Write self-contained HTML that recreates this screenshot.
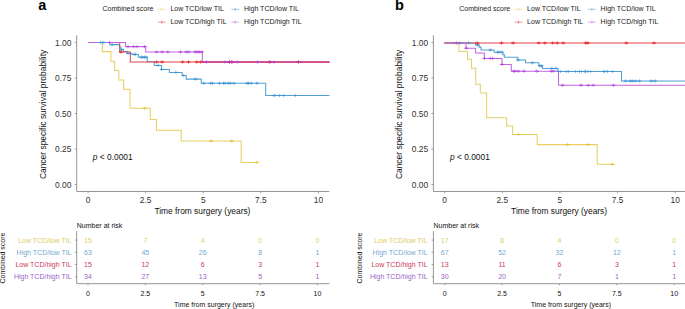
<!DOCTYPE html>
<html><head><meta charset="utf-8"><title>Kaplan-Meier</title>
<style>
html,body{margin:0;padding:0;background:#fff;width:685px;height:309px;overflow:hidden}
svg{display:block}
text{font-family:"Liberation Sans",sans-serif}
</style></head>
<body>
<svg width="685" height="309" viewBox="0 0 685 309">
<rect width="685" height="309" fill="#fff"/>
<text x="38.2" y="10" font-size="14.5" font-weight="bold"  fill="#000">a</text>
<text x="102.5" y="11.4" font-size="7"  fill="#222">Combined score</text>
<path d="M157.8,9.3H165.6M161.7,7.700000000000001V10.9" stroke="#e8d066" stroke-width="0.8" opacity="0.7" fill="none"/>
<text x="170.4" y="11.2" font-size="7"  fill="#222">Low TCD/low TIL</text>
<path d="M231.3,9.3H239.1M235.2,7.700000000000001V10.9" stroke="#52a0d2" stroke-width="0.8" opacity="0.7" fill="none"/>
<text x="243.9" y="11.2" font-size="7"  fill="#222">High TCD/low TIL</text>
<path d="M157.8,22.1H165.6M161.7,20.5V23.700000000000003" stroke="#dd4652" stroke-width="0.8" opacity="0.7" fill="none"/>
<text x="170.4" y="24.0" font-size="7"  fill="#222">Low TCD/high TIL</text>
<path d="M231.3,22.1H239.1M235.2,20.5V23.700000000000003" stroke="#c266e0" stroke-width="0.8" opacity="0.7" fill="none"/>
<text x="243.9" y="24.0" font-size="7"  fill="#222">High TCD/high TIL</text>
<path d="M76.7,35.3V191.5H329.3" stroke="#8a8a8a" stroke-width="0.9" fill="none"/>
<path d="M74.7,42.60H76.7" stroke="#8a8a8a" stroke-width="0.8"/>
<text x="71.4" y="45.60" font-size="8.4" text-anchor="end"  fill="#333">1.00</text>
<path d="M74.7,78.07H76.7" stroke="#8a8a8a" stroke-width="0.8"/>
<text x="71.4" y="81.07" font-size="8.4" text-anchor="end"  fill="#333">0.75</text>
<path d="M74.7,113.55H76.7" stroke="#8a8a8a" stroke-width="0.8"/>
<text x="71.4" y="116.55" font-size="8.4" text-anchor="end"  fill="#333">0.50</text>
<path d="M74.7,149.03H76.7" stroke="#8a8a8a" stroke-width="0.8"/>
<text x="71.4" y="152.03" font-size="8.4" text-anchor="end"  fill="#333">0.25</text>
<path d="M74.7,184.50H76.7" stroke="#8a8a8a" stroke-width="0.8"/>
<text x="71.4" y="187.50" font-size="8.4" text-anchor="end"  fill="#333">0.00</text>
<path d="M88.00,191.5V193.3" stroke="#8a8a8a" stroke-width="0.8"/>
<text x="88.00" y="203.1" font-size="8.4" text-anchor="middle"  fill="#333">0</text>
<path d="M145.62,191.5V193.3" stroke="#8a8a8a" stroke-width="0.8"/>
<text x="145.62" y="203.1" font-size="8.4" text-anchor="middle"  fill="#333">2.5</text>
<path d="M203.25,191.5V193.3" stroke="#8a8a8a" stroke-width="0.8"/>
<text x="203.25" y="203.1" font-size="8.4" text-anchor="middle"  fill="#333">5</text>
<path d="M260.88,191.5V193.3" stroke="#8a8a8a" stroke-width="0.8"/>
<text x="260.88" y="203.1" font-size="8.4" text-anchor="middle"  fill="#333">7.5</text>
<path d="M318.50,191.5V193.3" stroke="#8a8a8a" stroke-width="0.8"/>
<text x="318.50" y="203.1" font-size="8.4" text-anchor="middle"  fill="#333">10</text>
<text x="202.4" y="214.4" font-size="8.4" text-anchor="middle"  fill="#111">Time from surgery (years)</text>
<text transform="translate(45.5,114.4) rotate(-90)" font-size="8.45" text-anchor="middle"  fill="#111">Cancer specific survival probability</text>
<text x="92.8" y="160.2" font-size="8.4"  fill="#111"><tspan font-style="italic">p</tspan> &lt; 0.0001</text>
<path d="M88,42.5H102.3V51.6H110.9V61.2H114.7V70.5H118.8V79.9H123.6V89.2H130V108.3H150.3V119.5H156.5V130.3H181.2V141H241.2V162.4H257.5" stroke="#e8d066" stroke-width="1.05" fill="none" stroke-linejoin="miter"/>
<path d="M88,42.5H110V44.6H119.5V47H120.8V49.3H123.5V51.5H127.4V53.3H131.8V54.4H138.4V57.2H147.2V61.8H154.3V65.4H161.5V69.5H169.4V72.4H182.1V75.5H186.2V79.1H201.2V83.3H265.7V95.5H329.5" stroke="#52a0d2" stroke-width="1.05" fill="none" stroke-linejoin="miter"/>
<path d="M88,42.5H119.7V52H130.3V62H329.5" stroke="#dd4652" stroke-width="1.05" fill="none" stroke-linejoin="miter"/>
<path d="M88,42.5H125.6V46.6H145.7V51.9H202.3V62H329.5" stroke="#c266e0" stroke-width="1.05" fill="none" stroke-linejoin="miter"/>
<path d="M202.3,62H329.5" stroke="#d3356f" stroke-width="1.25" fill="none" stroke-linejoin="miter"/>
<path d="M142.60,108.30H146.60" stroke="#e3bf2c" stroke-width="1.0" fill="none"/><path d="M144.60,106.60V110.00" stroke="#e3bf2c" stroke-width="0.8" opacity="0.75" fill="none"/>
<path d="M209.20,141.00H213.20M229.70,141.00H233.70" stroke="#e3bf2c" stroke-width="1.0" fill="none"/><path d="M211.20,139.30V142.70M231.70,139.30V142.70" stroke="#e3bf2c" stroke-width="0.8" opacity="0.75" fill="none"/>
<path d="M254.80,162.40H258.80" stroke="#e3bf2c" stroke-width="1.0" fill="none"/><path d="M256.80,160.70V164.10" stroke="#e3bf2c" stroke-width="0.8" opacity="0.75" fill="none"/>
<path d="M98.50,42.50H102.50M100.30,42.50H104.30M101.80,42.50H105.80" stroke="#3d95d6" stroke-width="1.0" fill="none"/><path d="M100.50,40.80V44.20M102.30,40.80V44.20M103.80,40.80V44.20" stroke="#3d95d6" stroke-width="0.8" opacity="0.75" fill="none"/>
<path d="M110.20,44.60H114.20" stroke="#3d95d6" stroke-width="1.0" fill="none"/><path d="M112.20,42.90V46.30" stroke="#3d95d6" stroke-width="0.8" opacity="0.75" fill="none"/>
<path d="M119.50,49.80H123.50" stroke="#3d95d6" stroke-width="1.0" fill="none"/><path d="M121.50,48.10V51.50" stroke="#3d95d6" stroke-width="0.8" opacity="0.75" fill="none"/>
<path d="M126.10,53.30H130.10" stroke="#3d95d6" stroke-width="1.0" fill="none"/><path d="M128.10,51.60V55.00" stroke="#3d95d6" stroke-width="0.8" opacity="0.75" fill="none"/>
<path d="M132.00,54.40H136.00M133.40,54.40H137.40" stroke="#3d95d6" stroke-width="1.0" fill="none"/><path d="M134.00,52.70V56.10M135.40,52.70V56.10" stroke="#3d95d6" stroke-width="0.8" opacity="0.75" fill="none"/>
<path d="M139.30,57.20H143.30M140.70,57.20H144.70M142.60,57.20H146.60M144.00,57.20H148.00" stroke="#3d95d6" stroke-width="1.0" fill="none"/><path d="M141.30,55.50V58.90M142.70,55.50V58.90M144.60,55.50V58.90M146.00,55.50V58.90" stroke="#3d95d6" stroke-width="0.8" opacity="0.75" fill="none"/>
<path d="M156.20,65.40H160.20" stroke="#3d95d6" stroke-width="1.0" fill="none"/><path d="M158.20,63.70V67.10" stroke="#3d95d6" stroke-width="0.8" opacity="0.75" fill="none"/>
<path d="M159.80,69.50H163.80" stroke="#3d95d6" stroke-width="1.0" fill="none"/><path d="M161.80,67.80V71.20" stroke="#3d95d6" stroke-width="0.8" opacity="0.75" fill="none"/>
<path d="M173.80,72.40H177.80" stroke="#3d95d6" stroke-width="1.0" fill="none"/><path d="M175.80,70.70V74.10" stroke="#3d95d6" stroke-width="0.8" opacity="0.75" fill="none"/>
<path d="M181.60,75.50H185.60" stroke="#3d95d6" stroke-width="1.0" fill="none"/><path d="M183.60,73.80V77.20" stroke="#3d95d6" stroke-width="0.8" opacity="0.75" fill="none"/>
<path d="M193.50,79.10H197.50" stroke="#3d95d6" stroke-width="1.0" fill="none"/><path d="M195.50,77.40V80.80" stroke="#3d95d6" stroke-width="0.8" opacity="0.75" fill="none"/>
<path d="M201.80,83.30H205.80M208.60,83.30H212.60M210.60,83.30H214.60M217.40,83.30H221.40M221.50,83.30H225.50M223.10,83.30H227.10M226.20,83.30H230.20M228.20,83.30H232.20M231.90,83.30H235.90M245.10,83.30H249.10M246.60,83.30H250.60M249.20,83.30H253.20M254.90,83.30H258.90" stroke="#3d95d6" stroke-width="1.0" fill="none"/><path d="M203.80,81.60V85.00M210.60,81.60V85.00M212.60,81.60V85.00M219.40,81.60V85.00M223.50,81.60V85.00M225.10,81.60V85.00M228.20,81.60V85.00M230.20,81.60V85.00M233.90,81.60V85.00M247.10,81.60V85.00M248.60,81.60V85.00M251.20,81.60V85.00M256.90,81.60V85.00" stroke="#3d95d6" stroke-width="0.8" opacity="0.75" fill="none"/>
<path d="M271.50,95.50H275.50M273.00,95.50H277.00M277.50,95.50H281.50M281.60,95.50H285.60M293.20,95.50H297.20" stroke="#3d95d6" stroke-width="1.0" fill="none"/><path d="M273.50,93.80V97.20M275.00,93.80V97.20M279.50,93.80V97.20M283.60,93.80V97.20M295.20,93.80V97.20" stroke="#3d95d6" stroke-width="0.8" opacity="0.75" fill="none"/>
<path d="M118.80,52.00H122.80" stroke="#ee1515" stroke-width="1.0" fill="none"/><path d="M120.80,50.30V53.70" stroke="#ee1515" stroke-width="0.8" opacity="0.75" fill="none"/>
<path d="M154.70,62.00H158.70M160.20,62.00H164.20M180.60,62.00H184.60M186.50,62.00H190.50M194.60,62.00H198.60M198.70,62.00H202.70M227.50,62.00H231.50M229.60,62.00H233.60M267.90,62.00H271.90M296.50,62.00H300.50" stroke="#ee1515" stroke-width="1.0" fill="none"/><path d="M156.70,60.30V63.70M162.20,60.30V63.70M182.60,60.30V63.70M188.50,60.30V63.70M196.60,60.30V63.70M200.70,60.30V63.70M229.50,60.30V63.70M231.60,60.30V63.70M269.90,60.30V63.70M298.50,60.30V63.70" stroke="#ee1515" stroke-width="0.8" opacity="0.75" fill="none"/>
<path d="M107.50,42.50H111.50" stroke="#b445de" stroke-width="1.0" fill="none"/><path d="M109.50,40.80V44.20" stroke="#b445de" stroke-width="0.8" opacity="0.75" fill="none"/>
<path d="M126.10,46.60H130.10M131.60,46.60H135.60M134.90,46.60H138.90M142.50,46.60H146.50" stroke="#b445de" stroke-width="1.0" fill="none"/><path d="M128.10,44.90V48.30M133.60,44.90V48.30M136.90,44.90V48.30M144.50,44.90V48.30" stroke="#b445de" stroke-width="0.8" opacity="0.75" fill="none"/>
<path d="M154.70,51.90H158.70M160.20,51.90H164.20M165.80,51.90H169.80M178.50,51.90H182.50M184.20,51.90H188.20M186.80,51.90H190.80M193.00,51.90H197.00M195.10,51.90H199.10M197.20,51.90H201.20M199.80,51.90H203.80" stroke="#b445de" stroke-width="1.0" fill="none"/><path d="M156.70,50.20V53.60M162.20,50.20V53.60M167.80,50.20V53.60M180.50,50.20V53.60M186.20,50.20V53.60M188.80,50.20V53.60M195.00,50.20V53.60M197.10,50.20V53.60M199.20,50.20V53.60M201.80,50.20V53.60" stroke="#b445de" stroke-width="0.8" opacity="0.75" fill="none"/>
<path d="M204.40,62.00H208.40M222.80,62.00H226.80M227.50,62.00H231.50M230.10,62.00H234.10M235.30,62.00H239.30M255.50,62.00H259.50M267.40,62.00H271.40M272.10,62.00H276.10M296.50,62.00H300.50" stroke="#b445de" stroke-width="1.0" fill="none"/><path d="M206.40,60.30V63.70M224.80,60.30V63.70M229.50,60.30V63.70M232.10,60.30V63.70M237.30,60.30V63.70M257.50,60.30V63.70M269.40,60.30V63.70M274.10,60.30V63.70M298.50,60.30V63.70" stroke="#b445de" stroke-width="0.8" opacity="0.75" fill="none"/>
<text x="76.8" y="228.2" font-size="7"  fill="#111">Number at risk</text>
<path d="M76.7,231.2V283.7H329.3" stroke="#8a8a8a" stroke-width="0.9" fill="none"/>
<path d="M74.9,240.1H76.7" stroke="#8a8a8a" stroke-width="0.8"/>
<text x="71.6" y="242.6" font-size="7" text-anchor="end"  fill="#e2cc66">Low TCD/low TIL</text>
<text x="88.00" y="242.6" font-size="7" text-anchor="middle"  fill="#e2cc66">15</text>
<text x="145.38" y="242.6" font-size="7" text-anchor="middle"  fill="#e2cc66">7</text>
<text x="202.75" y="242.6" font-size="7" text-anchor="middle"  fill="#e2cc66">4</text>
<text x="260.12" y="242.6" font-size="7" text-anchor="middle"  fill="#e2cc66">0</text>
<text x="317.50" y="242.6" font-size="7" text-anchor="middle"  fill="#e2cc66">0</text>
<path d="M74.9,252.3H76.7" stroke="#8a8a8a" stroke-width="0.8"/>
<text x="71.6" y="254.8" font-size="7" text-anchor="end"  fill="#74a9d2">High TCD/low TIL</text>
<text x="88.00" y="254.8" font-size="7" text-anchor="middle"  fill="#74a9d2">63</text>
<text x="145.38" y="254.8" font-size="7" text-anchor="middle"  fill="#74a9d2">45</text>
<text x="202.75" y="254.8" font-size="7" text-anchor="middle"  fill="#74a9d2">26</text>
<text x="260.12" y="254.8" font-size="7" text-anchor="middle"  fill="#74a9d2">8</text>
<text x="317.50" y="254.8" font-size="7" text-anchor="middle"  fill="#74a9d2">1</text>
<path d="M74.9,264.5H76.7" stroke="#8a8a8a" stroke-width="0.8"/>
<text x="71.6" y="267.0" font-size="7" text-anchor="end"  fill="#cd3a58">Low TCD/high TIL</text>
<text x="88.00" y="267.0" font-size="7" text-anchor="middle"  fill="#cd3a58">15</text>
<text x="145.38" y="267.0" font-size="7" text-anchor="middle"  fill="#cd3a58">12</text>
<text x="202.75" y="267.0" font-size="7" text-anchor="middle"  fill="#cd3a58">6</text>
<text x="260.12" y="267.0" font-size="7" text-anchor="middle"  fill="#cd3a58">3</text>
<text x="317.50" y="267.0" font-size="7" text-anchor="middle"  fill="#cd3a58">1</text>
<path d="M74.9,276.8H76.7" stroke="#8a8a8a" stroke-width="0.8"/>
<text x="71.6" y="279.3" font-size="7" text-anchor="end"  fill="#9c62c6">High TCD/high TIL</text>
<text x="88.00" y="279.3" font-size="7" text-anchor="middle"  fill="#9c62c6">34</text>
<text x="145.38" y="279.3" font-size="7" text-anchor="middle"  fill="#9c62c6">27</text>
<text x="202.75" y="279.3" font-size="7" text-anchor="middle"  fill="#9c62c6">13</text>
<text x="260.12" y="279.3" font-size="7" text-anchor="middle"  fill="#9c62c6">5</text>
<text x="317.50" y="279.3" font-size="7" text-anchor="middle"  fill="#9c62c6">1</text>
<path d="M88.00,283.7V285.3" stroke="#8a8a8a" stroke-width="0.8"/>
<text x="88.00" y="296" font-size="7" text-anchor="middle"  fill="#111">0</text>
<path d="M145.38,283.7V285.3" stroke="#8a8a8a" stroke-width="0.8"/>
<text x="145.38" y="296" font-size="7" text-anchor="middle"  fill="#111">2.5</text>
<path d="M202.75,283.7V285.3" stroke="#8a8a8a" stroke-width="0.8"/>
<text x="202.75" y="296" font-size="7" text-anchor="middle"  fill="#111">5</text>
<path d="M260.12,283.7V285.3" stroke="#8a8a8a" stroke-width="0.8"/>
<text x="260.12" y="296" font-size="7" text-anchor="middle"  fill="#111">7.5</text>
<path d="M317.50,283.7V285.3" stroke="#8a8a8a" stroke-width="0.8"/>
<text x="317.50" y="296" font-size="7" text-anchor="middle"  fill="#111">10</text>
<text x="214.2" y="307.4" font-size="7" text-anchor="middle"  fill="#111">Time from surgery (years)</text>
<text transform="translate(5.4,258) rotate(-90)" font-size="7" text-anchor="middle"  fill="#111">Combined score</text>
<text x="394.9" y="10" font-size="14.5" font-weight="bold"  fill="#000">b</text>
<text x="459.2" y="11.4" font-size="7"  fill="#222">Combined score</text>
<path d="M514.5,9.3H522.3M518.4,7.700000000000001V10.9" stroke="#e8d066" stroke-width="0.8" opacity="0.7" fill="none"/>
<text x="527.1" y="11.2" font-size="7"  fill="#222">Low TCD/low TIL</text>
<path d="M588.0,9.3H595.8M591.9,7.700000000000001V10.9" stroke="#52a0d2" stroke-width="0.8" opacity="0.7" fill="none"/>
<text x="600.6" y="11.2" font-size="7"  fill="#222">High TCD/low TIL</text>
<path d="M514.5,22.1H522.3M518.4,20.5V23.700000000000003" stroke="#dd4652" stroke-width="0.8" opacity="0.7" fill="none"/>
<text x="527.1" y="24.0" font-size="7"  fill="#222">Low TCD/high TIL</text>
<path d="M588.0,22.1H595.8M591.9,20.5V23.700000000000003" stroke="#c266e0" stroke-width="0.8" opacity="0.7" fill="none"/>
<text x="600.6" y="24.0" font-size="7"  fill="#222">High TCD/high TIL</text>
<path d="M433.4,35.3V191.5H690.0" stroke="#8a8a8a" stroke-width="0.9" fill="none"/>
<path d="M431.4,42.60H433.4" stroke="#8a8a8a" stroke-width="0.8"/>
<text x="428.1" y="45.60" font-size="8.4" text-anchor="end"  fill="#333">1.00</text>
<path d="M431.4,78.07H433.4" stroke="#8a8a8a" stroke-width="0.8"/>
<text x="428.1" y="81.07" font-size="8.4" text-anchor="end"  fill="#333">0.75</text>
<path d="M431.4,113.55H433.4" stroke="#8a8a8a" stroke-width="0.8"/>
<text x="428.1" y="116.55" font-size="8.4" text-anchor="end"  fill="#333">0.50</text>
<path d="M431.4,149.03H433.4" stroke="#8a8a8a" stroke-width="0.8"/>
<text x="428.1" y="152.03" font-size="8.4" text-anchor="end"  fill="#333">0.25</text>
<path d="M431.4,184.50H433.4" stroke="#8a8a8a" stroke-width="0.8"/>
<text x="428.1" y="187.50" font-size="8.4" text-anchor="end"  fill="#333">0.00</text>
<path d="M444.70,191.5V193.3" stroke="#8a8a8a" stroke-width="0.8"/>
<text x="444.70" y="203.1" font-size="8.4" text-anchor="middle"  fill="#333">0</text>
<path d="M502.32,191.5V193.3" stroke="#8a8a8a" stroke-width="0.8"/>
<text x="502.32" y="203.1" font-size="8.4" text-anchor="middle"  fill="#333">2.5</text>
<path d="M559.95,191.5V193.3" stroke="#8a8a8a" stroke-width="0.8"/>
<text x="559.95" y="203.1" font-size="8.4" text-anchor="middle"  fill="#333">5</text>
<path d="M617.58,191.5V193.3" stroke="#8a8a8a" stroke-width="0.8"/>
<text x="617.58" y="203.1" font-size="8.4" text-anchor="middle"  fill="#333">7.5</text>
<path d="M675.20,191.5V193.3" stroke="#8a8a8a" stroke-width="0.8"/>
<text x="675.20" y="203.1" font-size="8.4" text-anchor="middle"  fill="#333">10</text>
<text x="559.1" y="214.4" font-size="8.4" text-anchor="middle"  fill="#111">Time from surgery (years)</text>
<text transform="translate(401.6,114.4) rotate(-90)" font-size="8.45" text-anchor="middle"  fill="#111">Cancer specific survival probability</text>
<text x="450.0" y="159.6" font-size="8.4"  fill="#111"><tspan font-style="italic">p</tspan> &lt; 0.0001</text>
<path d="M444.3,43H458.8V51.5H467.5V59.2H471.5V68.2H475.7V84.3H480.3V93H486.6V117.8H506.6V126H512.5V134.5H537.2V144.6H597.2V164.3H613.3" stroke="#e8d066" stroke-width="1.05" fill="none" stroke-linejoin="miter"/>
<path d="M444.3,43H475.5V44.9H479.1V47.1H481V50H494.1V52.2H502.8V54.6H504.3V57.3H517.8V60H525.5V62.7H538.8V65.8H542.5V68.4H558V71.5H621.5V81H690" stroke="#52a0d2" stroke-width="1.05" fill="none" stroke-linejoin="miter"/>
<path d="M444.3,43H690" stroke="#dd4652" stroke-width="1.05" fill="none" stroke-linejoin="miter"/>
<path d="M444.3,43H466V48.2H475.6V53H484.3V58.4H502V64.5H511.3V71.2H558.5V85.3H690" stroke="#c266e0" stroke-width="1.05" fill="none" stroke-linejoin="miter"/>
<path d="M516.50,134.50H520.50" stroke="#e3bf2c" stroke-width="1.0" fill="none"/><path d="M518.50,132.80V136.20" stroke="#e3bf2c" stroke-width="0.8" opacity="0.75" fill="none"/>
<path d="M565.50,144.60H569.50M585.90,144.60H589.90" stroke="#e3bf2c" stroke-width="1.0" fill="none"/><path d="M567.50,142.90V146.30M587.90,142.90V146.30" stroke="#e3bf2c" stroke-width="0.8" opacity="0.75" fill="none"/>
<path d="M610.50,164.30H614.50" stroke="#e3bf2c" stroke-width="1.0" fill="none"/><path d="M612.50,162.60V166.00" stroke="#e3bf2c" stroke-width="0.8" opacity="0.75" fill="none"/>
<path d="M458.10,43.00H462.10M466.60,43.00H470.60" stroke="#3d95d6" stroke-width="1.0" fill="none"/><path d="M460.10,41.30V44.70M468.60,41.30V44.70" stroke="#3d95d6" stroke-width="0.8" opacity="0.75" fill="none"/>
<path d="M475.50,44.90H479.50" stroke="#3d95d6" stroke-width="1.0" fill="none"/><path d="M477.50,43.20V46.60" stroke="#3d95d6" stroke-width="0.8" opacity="0.75" fill="none"/>
<path d="M488.40,50.00H492.40" stroke="#3d95d6" stroke-width="1.0" fill="none"/><path d="M490.40,48.30V51.70" stroke="#3d95d6" stroke-width="0.8" opacity="0.75" fill="none"/>
<path d="M495.70,52.20H499.70M497.20,52.20H501.20M499.80,52.20H503.80" stroke="#3d95d6" stroke-width="1.0" fill="none"/><path d="M497.70,50.50V53.90M499.20,50.50V53.90M501.80,50.50V53.90" stroke="#3d95d6" stroke-width="0.8" opacity="0.75" fill="none"/>
<path d="M516.10,60.00H520.10" stroke="#3d95d6" stroke-width="1.0" fill="none"/><path d="M518.10,58.30V61.70" stroke="#3d95d6" stroke-width="0.8" opacity="0.75" fill="none"/>
<path d="M530.40,62.70H534.40" stroke="#3d95d6" stroke-width="1.0" fill="none"/><path d="M532.40,61.00V64.40" stroke="#3d95d6" stroke-width="0.8" opacity="0.75" fill="none"/>
<path d="M537.90,65.80H541.90M539.40,65.80H543.40" stroke="#3d95d6" stroke-width="1.0" fill="none"/><path d="M539.90,64.10V67.50M541.40,64.10V67.50" stroke="#3d95d6" stroke-width="0.8" opacity="0.75" fill="none"/>
<path d="M549.80,68.40H553.80M553.90,68.40H557.90" stroke="#3d95d6" stroke-width="1.0" fill="none"/><path d="M551.80,66.70V70.10M555.90,66.70V70.10" stroke="#3d95d6" stroke-width="0.8" opacity="0.75" fill="none"/>
<path d="M556.50,71.50H560.50M558.60,71.50H562.60M564.30,71.50H568.30M566.30,71.50H570.30M573.40,71.50H577.40M577.50,71.50H581.50M579.60,71.50H583.60M582.70,71.50H586.70M583.70,71.50H587.70M585.80,71.50H589.80M588.40,71.50H592.40M601.80,71.50H605.80M602.90,71.50H606.90M605.50,71.50H609.50M610.60,71.50H614.60" stroke="#3d95d6" stroke-width="1.0" fill="none"/><path d="M558.50,69.80V73.20M560.60,69.80V73.20M566.30,69.80V73.20M568.30,69.80V73.20M575.40,69.80V73.20M579.50,69.80V73.20M581.60,69.80V73.20M584.70,69.80V73.20M585.70,69.80V73.20M587.80,69.80V73.20M590.40,69.80V73.20M603.80,69.80V73.20M604.90,69.80V73.20M607.50,69.80V73.20M612.60,69.80V73.20" stroke="#3d95d6" stroke-width="0.8" opacity="0.75" fill="none"/>
<path d="M623.50,81.00H627.50M628.10,81.00H632.10M630.30,81.00H634.30M633.20,81.00H637.20M637.30,81.00H641.30M649.20,81.00H653.20M652.90,81.00H656.90" stroke="#3d95d6" stroke-width="1.0" fill="none"/><path d="M625.50,79.30V82.70M630.10,79.30V82.70M632.30,79.30V82.70M635.20,79.30V82.70M639.30,79.30V82.70M651.20,79.30V82.70M654.90,79.30V82.70" stroke="#3d95d6" stroke-width="0.8" opacity="0.75" fill="none"/>
<path d="M475.40,43.00H479.40M499.50,43.00H503.50M511.20,43.00H515.20M536.70,43.00H540.70M542.90,43.00H546.90M550.60,43.00H554.60M555.30,43.00H559.30M561.20,43.00H565.20M583.70,43.00H587.70M585.80,43.00H589.80M624.30,43.00H628.30M651.90,43.00H655.90" stroke="#ee1515" stroke-width="1.0" fill="none"/><path d="M477.40,41.30V44.70M501.50,41.30V44.70M513.20,41.30V44.70M538.70,41.30V44.70M544.90,41.30V44.70M552.60,41.30V44.70M557.30,41.30V44.70M563.20,41.30V44.70M585.70,41.30V44.70M587.80,41.30V44.70M626.30,41.30V44.70M653.90,41.30V44.70" stroke="#ee1515" stroke-width="0.8" opacity="0.75" fill="none"/>
<path d="M454.60,43.00H458.60" stroke="#b445de" stroke-width="1.0" fill="none"/><path d="M456.60,41.30V44.70" stroke="#b445de" stroke-width="0.8" opacity="0.75" fill="none"/>
<path d="M464.30,48.20H468.30" stroke="#b445de" stroke-width="1.0" fill="none"/><path d="M466.30,46.50V49.90" stroke="#b445de" stroke-width="0.8" opacity="0.75" fill="none"/>
<path d="M482.50,58.40H486.50M488.30,58.40H492.30M490.70,58.40H494.70" stroke="#b445de" stroke-width="1.0" fill="none"/><path d="M484.50,56.70V60.10M490.30,56.70V60.10M492.70,56.70V60.10" stroke="#b445de" stroke-width="0.8" opacity="0.75" fill="none"/>
<path d="M500.10,64.50H504.10" stroke="#b445de" stroke-width="1.0" fill="none"/><path d="M502.10,62.80V66.20" stroke="#b445de" stroke-width="0.8" opacity="0.75" fill="none"/>
<path d="M511.70,71.20H515.70M513.00,71.20H517.00M516.40,71.20H520.40M522.00,71.20H526.00M534.80,71.20H538.80M549.30,71.20H553.30M551.30,71.20H555.30" stroke="#b445de" stroke-width="1.0" fill="none"/><path d="M513.70,69.50V72.90M515.00,69.50V72.90M518.40,69.50V72.90M524.00,69.50V72.90M536.80,69.50V72.90M551.30,69.50V72.90M553.30,69.50V72.90" stroke="#b445de" stroke-width="0.8" opacity="0.75" fill="none"/>
<path d="M560.60,85.30H564.60M579.00,85.30H583.00M586.30,85.30H590.30M591.20,85.30H595.20M611.50,85.30H615.50" stroke="#b445de" stroke-width="1.0" fill="none"/><path d="M562.60,83.60V87.00M581.00,83.60V87.00M588.30,83.60V87.00M593.20,83.60V87.00M613.50,83.60V87.00" stroke="#b445de" stroke-width="0.8" opacity="0.75" fill="none"/>
<text x="433.5" y="228.2" font-size="7"  fill="#111">Number at risk</text>
<path d="M433.4,231.2V283.7H690.0" stroke="#8a8a8a" stroke-width="0.9" fill="none"/>
<path d="M431.6,240.1H433.4" stroke="#8a8a8a" stroke-width="0.8"/>
<text x="427.6" y="242.6" font-size="7" text-anchor="end"  fill="#e2cc66">Low TCD/low TIL</text>
<text x="444.70" y="242.6" font-size="7" text-anchor="middle"  fill="#e2cc66">17</text>
<text x="502.07" y="242.6" font-size="7" text-anchor="middle"  fill="#e2cc66">8</text>
<text x="559.45" y="242.6" font-size="7" text-anchor="middle"  fill="#e2cc66">4</text>
<text x="616.83" y="242.6" font-size="7" text-anchor="middle"  fill="#e2cc66">0</text>
<text x="674.20" y="242.6" font-size="7" text-anchor="middle"  fill="#e2cc66">0</text>
<path d="M431.6,252.3H433.4" stroke="#8a8a8a" stroke-width="0.8"/>
<text x="427.6" y="254.8" font-size="7" text-anchor="end"  fill="#74a9d2">High TCD/low TIL</text>
<text x="444.70" y="254.8" font-size="7" text-anchor="middle"  fill="#74a9d2">67</text>
<text x="502.07" y="254.8" font-size="7" text-anchor="middle"  fill="#74a9d2">52</text>
<text x="559.45" y="254.8" font-size="7" text-anchor="middle"  fill="#74a9d2">32</text>
<text x="616.83" y="254.8" font-size="7" text-anchor="middle"  fill="#74a9d2">12</text>
<text x="674.20" y="254.8" font-size="7" text-anchor="middle"  fill="#74a9d2">1</text>
<path d="M431.6,264.5H433.4" stroke="#8a8a8a" stroke-width="0.8"/>
<text x="427.6" y="267.0" font-size="7" text-anchor="end"  fill="#cd3a58">Low TCD/high TIL</text>
<text x="444.70" y="267.0" font-size="7" text-anchor="middle"  fill="#cd3a58">13</text>
<text x="502.07" y="267.0" font-size="7" text-anchor="middle"  fill="#cd3a58">11</text>
<text x="559.45" y="267.0" font-size="7" text-anchor="middle"  fill="#cd3a58">6</text>
<text x="616.83" y="267.0" font-size="7" text-anchor="middle"  fill="#cd3a58">3</text>
<text x="674.20" y="267.0" font-size="7" text-anchor="middle"  fill="#cd3a58">1</text>
<path d="M431.6,276.8H433.4" stroke="#8a8a8a" stroke-width="0.8"/>
<text x="427.6" y="279.3" font-size="7" text-anchor="end"  fill="#9c62c6">High TCD/high TIL</text>
<text x="444.70" y="279.3" font-size="7" text-anchor="middle"  fill="#9c62c6">30</text>
<text x="502.07" y="279.3" font-size="7" text-anchor="middle"  fill="#9c62c6">20</text>
<text x="559.45" y="279.3" font-size="7" text-anchor="middle"  fill="#9c62c6">7</text>
<text x="616.83" y="279.3" font-size="7" text-anchor="middle"  fill="#9c62c6">1</text>
<text x="674.20" y="279.3" font-size="7" text-anchor="middle"  fill="#9c62c6">1</text>
<path d="M444.70,283.7V285.3" stroke="#8a8a8a" stroke-width="0.8"/>
<text x="444.70" y="296" font-size="7" text-anchor="middle"  fill="#111">0</text>
<path d="M502.07,283.7V285.3" stroke="#8a8a8a" stroke-width="0.8"/>
<text x="502.07" y="296" font-size="7" text-anchor="middle"  fill="#111">2.5</text>
<path d="M559.45,283.7V285.3" stroke="#8a8a8a" stroke-width="0.8"/>
<text x="559.45" y="296" font-size="7" text-anchor="middle"  fill="#111">5</text>
<path d="M616.83,283.7V285.3" stroke="#8a8a8a" stroke-width="0.8"/>
<text x="616.83" y="296" font-size="7" text-anchor="middle"  fill="#111">7.5</text>
<path d="M674.20,283.7V285.3" stroke="#8a8a8a" stroke-width="0.8"/>
<text x="674.20" y="296" font-size="7" text-anchor="middle"  fill="#111">10</text>
<text x="570.9" y="307.4" font-size="7" text-anchor="middle"  fill="#111">Time from surgery (years)</text>
<text transform="translate(361.7,258) rotate(-90)" font-size="7" text-anchor="middle"  fill="#111">Combined score</text>
</svg>
</body></html>
